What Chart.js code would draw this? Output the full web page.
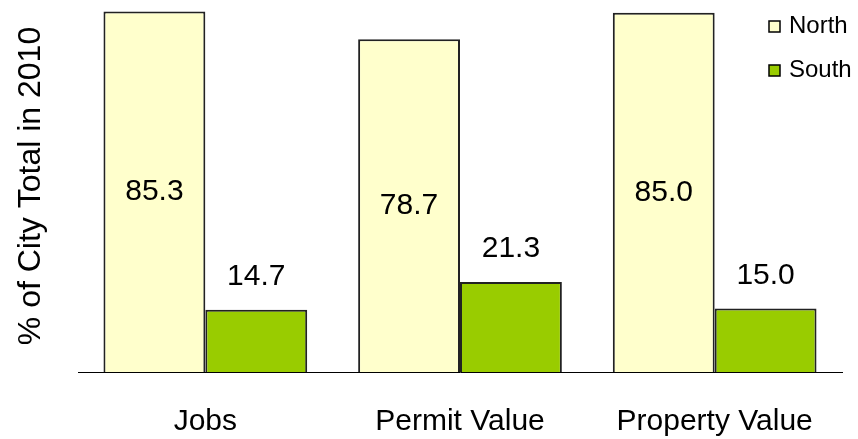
<!DOCTYPE html>
<html>
<head>
<meta charset="utf-8">
<script src="https://cdn.jsdelivr.net/npm/chart.js@4"></script>
<style>
  body { margin: 0; background: #fff; }
  #wrap { width: 858px; height: 439px; }
</style>
</head>
<body>
<div id="wrap"><canvas id="myBarChart"></canvas></div>
<script>
var categories = ['Jobs', 'Permit Value', 'Property Value'];
var northValues = [85.3, 78.7, 85.0];
var southValues = [14.7, 21.3, 15.0];
var yTitle = '% of City Total in 2010';

var FONT = 'Arial, "Liberation Sans", sans-serif';

// value labels: North centred in the bar, South above it
var valueLabels = {
    id: 'valueLabels',
    afterDatasetsDraw: function(chart) {
        var c = chart.ctx;
        c.save();
        c.font = '30px ' + FONT;
        c.fillStyle = '#000';
        c.textAlign = 'center';
        c.textBaseline = 'middle';
        chart.data.datasets.forEach(function(ds, i) {
            chart.getDatasetMeta(i).data.forEach(function(bar, j) {
                var txt = ds.data[j].toFixed(1);
                var y = i === 0 ? (bar.y + bar.base) / 2 : bar.y - 33;
                c.fillText(txt, bar.x, y);
            });
        });
        c.restore();
    }
};

// legend in the top right corner, stacked
var cornerLegend = {
    id: 'cornerLegend',
    afterDraw: function(chart) {
        var c = chart.ctx;
        c.save();
        c.font = '24px ' + FONT;
        c.textBaseline = 'middle';
        chart.data.datasets.forEach(function(ds, i) {
            var cy = 26 + i * 44;
            c.fillStyle = ds.backgroundColor;
            c.fillRect(769, cy - 5, 11, 11);
            c.strokeStyle = '#000';
            c.lineWidth = 1.5;
            c.strokeRect(769, cy - 5, 11, 11);
            c.fillStyle = '#000';
            c.fillText(ds.label, 789, cy);
        });
        c.restore();
    }
};

var ctx = document.getElementById('myBarChart');
var myChart = new Chart(ctx, {
    type: 'bar',
    data: {
        labels: categories,
        datasets: [{
            label: 'North',
            data: northValues,
            backgroundColor: '#FFFFCC',
            borderColor: '#222',
            borderWidth: 2
        }, {
            label: 'South',
            data: southValues,
            backgroundColor: '#99CC00',
            borderColor: '#222',
            borderWidth: 2
        }]
    },
    plugins: [valueLabels, cornerLegend],
    options: {
        responsive: true,
        maintainAspectRatio: false,
        animation: false,
        layout: { padding: { top: 0, right: 16, left: 0, bottom: 0 } },
        plugins: {
            legend: { display: false },
            tooltip: { enabled: false }
        },
        datasets: {
            bar: { categoryPercentage: 0.8, barPercentage: 1.0 }
        },
        scales: {
            x: {
                grid: { display: false, drawTicks: false },
                border: { display: true, color: '#000', width: 1 },
                ticks: { color: '#000', font: { family: FONT, size: 30 }, padding: 32 },
                afterFit: function(scale) { scale.height = 67; }
            },
            y: {
                min: 0,
                max: 88,
                grid: { display: false, drawTicks: false },
                border: { display: false },
                ticks: { display: false },
                title: {
                    display: true,
                    text: yTitle,
                    color: '#000',
                    font: { family: FONT, size: 32 },
                    padding: { top: 12, bottom: 0 }
                },
                afterFit: function(scale) { scale.width = 78; }
            }
        }
    }
});
</script>
</body>
</html>
